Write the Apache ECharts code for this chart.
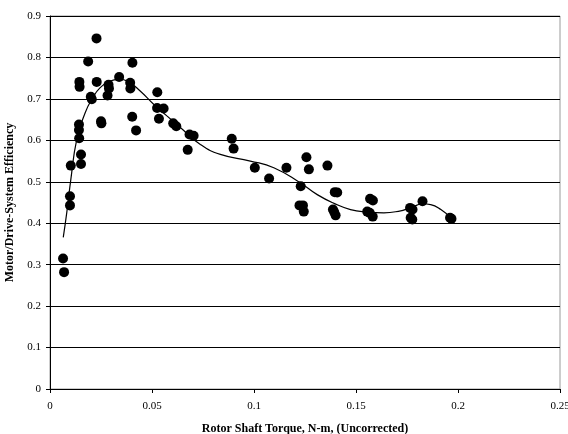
<!DOCTYPE html>
<html><head><meta charset="utf-8">
<script src="https://cdn.jsdelivr.net/npm/echarts@6/dist/echarts.min.js"></script>
<style>html,body{margin:0;padding:0;background:#fff}#c{width:568px;height:434px}</style>
</head><body><div id="c"></div>
<script>
var xTitle = 'Rotor Shaft Torque, N-m, (Uncorrected)';
var yTitle = 'Motor/Drive-System Efficiency';
var pointsX = [0.0064,0.0069,0.0098,0.0098,0.0102,0.0142,0.0142,0.0143,0.0152,0.0152,0.0144,0.0145,0.0187,0.0228,0.0229,0.0200,0.0205,0.0250,0.0252,0.0282,0.0287,0.0289,0.0339,0.0393,0.0394,0.0404,0.0403,0.0422,0.0526,0.0525,0.0557,0.0534,0.0604,0.0619,0.0675,0.0684,0.0704,0.0891,0.0900,0.1004,0.1074,0.1159,0.1257,0.1269,0.1229,0.1223,0.1240,0.1244,0.1360,0.1396,0.1408,0.1387,0.1393,0.1400,0.1569,0.1583,0.1555,0.1567,0.1582,0.1765,0.1777,0.1768,0.1776,0.1826,0.1961,0.1968];
var pointsY = [0.315,0.282,0.465,0.443,0.539,0.638,0.625,0.605,0.566,0.543,0.741,0.729,0.790,0.846,0.741,0.705,0.699,0.646,0.641,0.708,0.734,0.725,0.753,0.739,0.725,0.787,0.657,0.624,0.716,0.678,0.677,0.652,0.641,0.634,0.577,0.614,0.611,0.604,0.580,0.534,0.508,0.534,0.559,0.530,0.489,0.443,0.443,0.428,0.539,0.475,0.474,0.433,0.427,0.419,0.459,0.455,0.428,0.425,0.416,0.437,0.433,0.413,0.409,0.453,0.413,0.411];
var curveX = [0.0065,0.0082,0.0102,0.0131,0.0172,0.0205,0.0246,0.0295,0.0336,0.0385,0.0442,0.0508,0.0573,0.0639,0.0737,0.0835,0.0982,0.1097,0.1228,0.1310,0.1392,0.1473,0.1555,0.1637,0.1719,0.1752,0.1790,0.1826,0.1866,0.1916,0.1965];
var curveY = [0.366,0.425,0.505,0.602,0.666,0.699,0.727,0.743,0.747,0.741,0.719,0.687,0.659,0.631,0.590,0.566,0.550,0.534,0.497,0.469,0.448,0.433,0.427,0.425,0.430,0.435,0.442,0.447,0.445,0.433,0.413];
var xTicks = ['0','0.05','0.1','0.15','0.2','0.25'];

var scatterData = pointsX.map(function(x,i){return [x,pointsY[i]];});
var curveData = curveX.map(function(x,i){return [x,curveY[i]];});
var font = '"Liberation Serif","Times New Roman",serif';
var chart = echarts.init(document.getElementById('c'), null, {renderer:'canvas'});
chart.setOption({
  animation:false,
  backgroundColor:'#fff',
  grid:{left:50,right:8,top:16,bottom:45,outerBoundsMode:'none',containLabel:false,show:true,borderColor:'#9a9a9a',borderWidth:1,backgroundColor:'transparent'},
  xAxis:{type:'value',min:0,max:0.25,interval:0.05,
    name:xTitle,nameLocation:'middle',nameGap:34,
    nameTextStyle:{fontFamily:font,fontWeight:'bold',fontSize:12,color:'#000'},
    axisLine:{show:true,onZero:false,lineStyle:{color:'#000',width:1}},
    axisTick:{show:true,length:4,inside:false,lineStyle:{color:'#000'}},
    axisLabel:{fontFamily:font,fontSize:11,color:'#000',margin:12,formatter:function(v){var i=Math.round(v/0.05);return xTicks[i]!==undefined?xTicks[i]:'';}},
    splitLine:{show:false}},
  yAxis:{type:'value',min:0,max:0.9,interval:0.1,
    name:yTitle,nameLocation:'middle',nameGap:31,nameRotate:90,
    nameTextStyle:{fontFamily:font,fontWeight:'bold',fontSize:12,color:'#000'},
    axisLine:{show:true,onZero:false,lineStyle:{color:'#000',width:1}},
    axisTick:{show:true,length:4,lineStyle:{color:'#000'}},
    axisLabel:{fontFamily:font,fontSize:11,color:'#000',margin:9,formatter:function(v){return String(Math.round(v*10)/10);}},
    splitLine:{show:true,lineStyle:{color:'#000',width:1}}},
  series:[
    {type:'line',data:curveData,smooth:0.5,showSymbol:false,symbol:'none',lineStyle:{color:'#000',width:1.2},z:2},
    {type:'scatter',data:scatterData,symbol:'circle',symbolSize:10,itemStyle:{color:'#000',opacity:1},z:3}
  ]
});
</script></body></html>
